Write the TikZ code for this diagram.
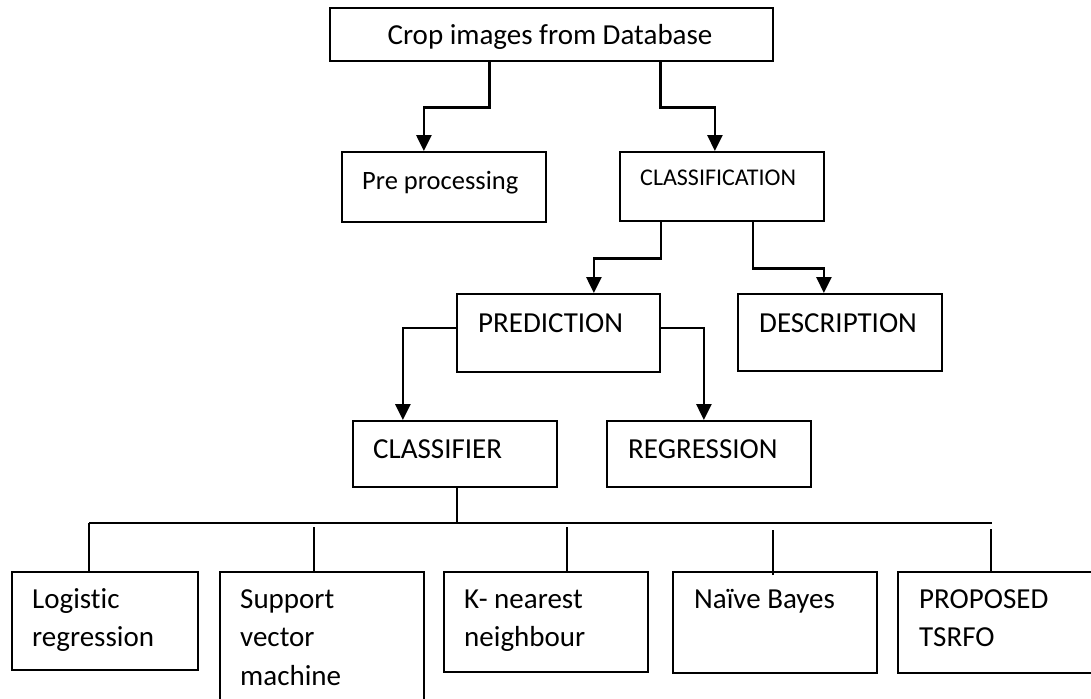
\documentclass[tikz,border=0pt]{standalone}
\usepackage{fontspec}
\setmainfont{Carlito}[Ligatures={NoCommon}]
\usetikzlibrary{arrows.meta}

\begin{document}
\begin{tikzpicture}[x=1pt, y=-1pt, >={Triangle[length=16pt, width=15pt]},
  box/.style={draw, line width=1.8pt, anchor=north west, inner sep=0pt},
  txt/.style={anchor=base west, inner sep=0pt, align=left,
    font=\fontsize{29}{38.5}\selectfont},
  arr/.style={->, line width=2.8pt},
  bus/.style={line width=2.6pt}]
  \path[use as bounding box, clip] (0,0) rectangle (1091,698);

  % boxes
  \node[box, minimum width=443, minimum height=53] (top) at (329,7) {};
  \node[box, minimum width=204, minimum height=70] (pre) at (341,151) {};
  \node[box, minimum width=204, minimum height=69] (cls) at (619,151) {};
  \node[box, minimum width=203, minimum height=78] (pred) at (456,293) {};
  \node[box, minimum width=204, minimum height=77] (desc) at (737,293) {};
  \node[box, minimum width=204, minimum height=66] (clf) at (352,420) {};
  \node[box, minimum width=204, minimum height=66] (reg) at (606,420) {};
  \node[box, minimum width=186, minimum height=98] (logreg) at (11,571) {};
  \node[box, minimum width=204, minimum height=140] (svm) at (219,571) {};
  \node[box, minimum width=204, minimum height=100] (knn) at (443,571) {};
  \node[box, minimum width=204, minimum height=101] (nb) at (672,571) {};
  \node[box, minimum width=200, minimum height=101] (prop) at (897,571) {};

  % texts (base = last line)
  \node[txt, anchor=base] (top-t) at (550,45) {Crop images from Database};
  \node[txt, font=\fontsize{26.5}{32}\selectfont] (pre-t) at (362,189) {Pre processing};
  \node[txt, font=\fontsize{24}{28}\selectfont] (cls-t) at (640,185) {CLASSIFICATION};
  \node[txt] (pred-t) at (478,332) {PREDICTION};
  \node[txt] (desc-t) at (759,332) {DESCRIPTION};
  \node[txt] (clf-t) at (373,458) {CLASSIFIER};
  \node[txt] (reg-t) at (628,458) {REGRESSION};
  \node[txt] (logreg-t) at (32,646.5) {Logistic\\regression};
  \node[txt] (svm-t) at (240,685) {Support\\vector\\machine};
  \node[txt] (knn-t) at (464,646.5) {K- nearest\\neighbour};
  \node[txt] (nb-t) at (694,608) {Naïve Bayes};
  \node[txt] (prop-t) at (919,646.5) {PROPOSED\\TSRFO};

  % elbow arrows
  \draw[arr] ([xshift=-62pt]top.south) -- ++(0,46) -| ([xshift=-20pt]pre.north);
  \draw[arr] ([xshift=109pt]top.south) -- ++(0,46) -| ([xshift=-7pt]cls.north);
  \draw[arr] ([xshift=-61pt]cls.south) -- ++(0,37) -| ([xshift=35.5pt]pred.north);
  \draw[arr] ([xshift=31pt]cls.south) -- ++(0,47) -| ([xshift=-16pt]desc.north);
  \draw[arr] ([yshift=5pt]pred.west) -| ([xshift=-52pt]clf.north);
  \draw[arr] ([yshift=5pt]pred.east) -| ([xshift=-5pt]reg.north);

  % classifier bus
  \coordinate (busL) at (89,523);
  \coordinate (busR) at (992,523);
  \draw[bus] ([xshift=2pt]clf.south) -- ([xshift=2pt]clf.south |- busL);
  \draw[bus] (busL) -- (busR);
  \draw[bus] (busL) -- (busL |- logreg.north);
  \foreach \n/\dx/\len in {svm/-8/44, knn/21/44, prop/-7/42}
    \draw[bus] ([xshift=\dx pt]\n.north) -- ++(0,-\len);
  \draw[bus] ([xshift=-2pt, yshift=-4pt]nb.north) -- ++(0,-45);
\end{tikzpicture}
\end{document}
